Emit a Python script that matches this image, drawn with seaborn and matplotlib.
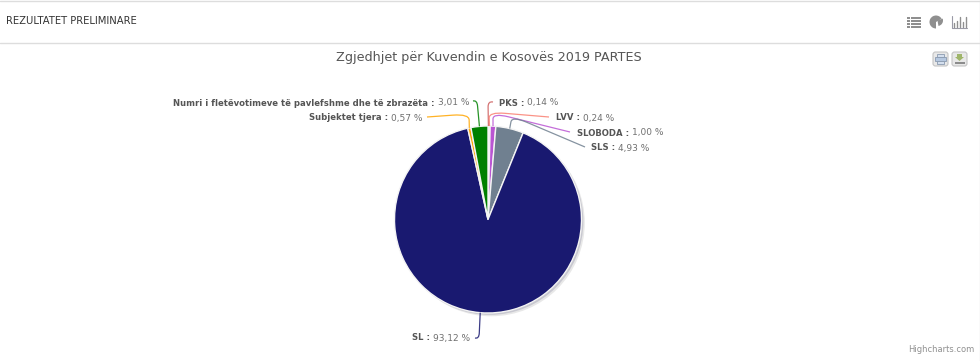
import matplotlib
matplotlib.use('Agg')
import matplotlib.pyplot as plt
from matplotlib.patches import Circle, FancyBboxPatch, PathPatch, Polygon, Rectangle, Wedge
from matplotlib.path import Path
import numpy as np
import seaborn as sns

# Data: share of the vote per party, clockwise from 12 o'clock
parties = ['PKS', 'LVV', 'SLOBODA', 'SLS', 'SL', 'Subjektet tjera',
           'Numri i fletëvotimeve të pavlefshme dhe të zbrazëta']
shares = [0.14, 0.24, 1.00, 4.93, 93.12, 0.57, 3.01]
share_labels = ['0,14 %', '0,24 %', '1,00 %', '4,93 %', '93,12 %', '0,57 %', '3,01 %']
slice_colors = ['#cd5c5c', '#fa8072', '#ba55d3', '#708090', '#191970', '#ffa500', '#008000']

title_text = 'Zgjedhjet për Kuvendin e Kosovës 2019 PARTES'
header_text = 'REZULTATET PRELIMINARE'
credit_text = 'Highcharts.com'

# Layout in pixels
W, H = 980, 361
CX, CY, R = 488, 219.5, 93.5
label_left = [499, 556, 577, 591, 412, 309, 173]
label_y = [103, 118, 133, 148, 338, 118, 103]
elbows = [(488, 101), (489, 112), (493, 113), (512, 116), (479, 339), (469, 114), (477, 100)]
line_ends = [(493, 102), (549, 117), (570, 132), (585, 147), (475, 338), (427, 117), (473, 101)]

sns.set_theme(style='white')
plt.rcParams['font.family'] = ['DejaVu Sans']

fig = plt.figure(figsize=(W / 100, H / 100), dpi=100, facecolor='white')

# Overlay in pixel coordinates for the page furniture and labels
page = fig.add_axes([0, 0, 1, 1], zorder=1)
page.set_xlim(0, W)
page.set_ylim(H, 0)
page.axis('off')

# Pie axes: one data unit is exactly R pixels
ax = fig.add_axes([(CX - R) / W, 1 - (CY + R) / H, 2 * R / W, 2 * R / H], zorder=0)
ax.add_patch(Circle((0.035, -0.035), 1.0, fc='#e8e8e8', ec='none'))
ax.add_patch(Circle((0.02, -0.02), 1.0, fc='#c8c8d0', ec='none'))
wedges, _ = ax.pie(shares, colors=slice_colors, startangle=90, counterclock=False,
                   radius=1, wedgeprops={'edgecolor': '#f4f4f4', 'linewidth': 1.0})
ax.set_xlim(-1, 1)
ax.set_ylim(-1, 1)
ax.axis('off')
for artist in ax.patches:
    artist.set_clip_on(False)

# Page frame
page.plot([0, W], [0.5, 0.5], color='#dddddd', lw=1)
page.plot([0, W], [42.5, 42.5], color='#dddddd', lw=1)
page.plot([979.5, 979.5], [0, H], color='#e6e6e6', lw=1)
page.text(6, 21.5, header_text, fontsize=7.2, color='#333333', va='center', ha='left')
page.text(488.5, 58, title_text, fontsize=9.2, color='#555555', va='center', ha='center')
page.text(974, 350, credit_text, fontsize=6.0, color='#909090', va='center', ha='right')

# Connectors and labels
renderer = fig.canvas.get_renderer()
for i, w in enumerate(wedges):
    mid = np.deg2rad((w.theta1 + w.theta2) / 2)
    start = np.array([CX + R * np.cos(mid), CY - R * np.sin(mid)])
    elbow = np.array(elbows[i], dtype=float)
    end = np.array(line_ends[i], dtype=float)
    to_start = start - elbow
    to_end = end - elbow
    a = elbow + to_start * min(1, 6 / np.hypot(*to_start))
    b = elbow + to_end * min(1, 16 / np.hypot(*to_end))
    path = Path([start, a, elbow, b, end],
                [Path.MOVETO, Path.LINETO, Path.CURVE3, Path.CURVE3, Path.LINETO])
    page.add_patch(PathPatch(path, fc='none', ec=slice_colors[i], lw=0.9, alpha=0.85))
    name = page.text(label_left[i], label_y[i], parties[i] + ' :', fontsize=6.1, fontweight='bold',
                     color='#555555', va='center', ha='left')
    right = name.get_window_extent(renderer).x1
    page.text(right + 3, label_y[i], share_labels[i], fontsize=6.5, color='#707070',
              va='center', ha='left')

# View switcher icons (list, pie, bars)
icon = '#8f8f8f'
for y in [17, 20, 23, 26]:
    page.add_patch(Rectangle((907, y), 3, 2, fc=icon, ec='none'))
    page.add_patch(Rectangle((911, y), 10, 2, fc=icon, ec='none'))
page.add_patch(Wedge((936, 22), 6.5, 90, 330, fc=icon, ec='none'))
page.add_patch(Wedge((937.5, 20.5), 5.5, 340, 80, fc=icon, ec='none'))
page.plot([951.5, 951.5, 967], [16, 27.5, 27.5], color='#9a9aa6', lw=0.8)
for x, top in zip([954, 957, 960, 963, 965.5], [23, 21, 17, 22, 17]):
    page.plot([x, x], [27, top], color=icon, lw=1)

# Export buttons
for x0 in [932, 951]:
    page.add_patch(FancyBboxPatch((x0 + 1, 52), 15, 14, boxstyle='round,pad=0,rounding_size=2.5',
                                  fc='#e8e8e8', ec='#c4c4c4', lw=0.8))
page.add_patch(Rectangle((937, 54), 7, 3, fc='#d4dfee', ec='#8b9bb0', lw=0.6))
page.add_patch(Rectangle((935, 57), 11, 4, fc='#b6c8e0', ec='#8b9bb0', lw=0.6))
page.add_patch(Rectangle((937, 61), 7, 3, fc='#d4dfee', ec='#8b9bb0', lw=0.6))
page.add_patch(Polygon([(957, 54), (962, 54), (962, 57), (964, 57), (959.5, 61), (955, 57), (957, 57)],
                       fc='#9fb56a', ec='none'))
page.add_patch(Rectangle((955, 62), 10, 2, fc='#8c8c8c', ec='none'))

plt.savefig('out.png', dpi=100)
plt.close()
